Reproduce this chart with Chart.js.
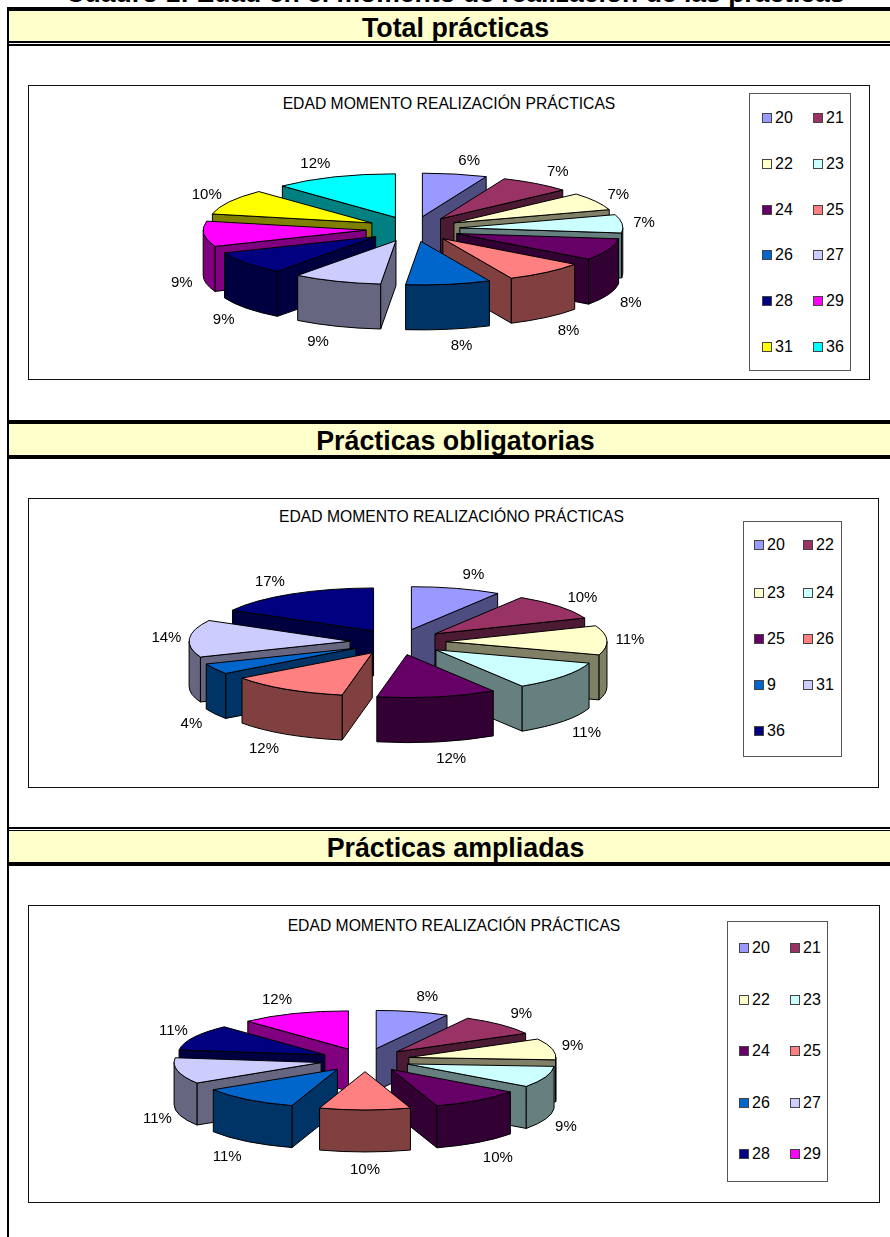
<!DOCTYPE html>
<html>
<head>
<meta charset="utf-8">
<script src="https://cdn.jsdelivr.net/npm/chart.js@4"></script>
<style>
  html, body { margin: 0; padding: 0; background: #fff; overflow: hidden; }
  body { width: 890px; height: 1237px; position: relative; font-family: "Liberation Sans", Arial, sans-serif; color: #000; }
  div, canvas { position: absolute; box-sizing: border-box; }
  .black { background: #000; }
  .head { background: #FFFFCC; left: 9px; right: 0; text-align: center; font-weight: bold; font-size: 26.8px; padding-left: 12px; white-space: nowrap; }
  .box { border: 1.5px solid #111; }
  .title { text-align: center; font-size: 15.7px; white-space: nowrap; }
  .legend { border: 1px solid #555; background: #fff; }
  .swatch { width: 10px; height: 10px; border: 1px solid #444; }
  .age { font-size: 16px; line-height: 18px; }
</style>
</head>
<body>
<div style="left:0;right:0;top:-22px;text-align:center;font-weight:bold;font-size:26.5px;padding-left:20px;white-space:nowrap">Cuadro 1: Edad en el momento de realización de las prácticas</div>
<div class="black" style="left:7px;top:7px;width:2px;height:1230px"></div>

<div class="black" style="left:7px;right:0;top:7px;height:4px"></div>
<div class="head" style="top:11px;height:30px;line-height:34px">Total prácticas</div>
<div class="black" style="left:7px;right:0;top:41px;height:2px"></div>
<div class="black" style="left:7px;right:0;top:44px;height:2px"></div>

<div class="black" style="left:7px;right:0;top:420px;height:4px"></div>
<div class="head" style="top:424px;height:31px;line-height:35px">Prácticas obligatorias</div>
<div class="black" style="left:7px;right:0;top:455px;height:4px"></div>

<div class="black" style="left:7px;right:0;top:827px;height:2px"></div>
<div class="black" style="left:7px;right:0;top:830px;height:1px"></div>
<div class="head" style="top:831px;height:31px;line-height:35px">Prácticas ampliadas</div>
<div class="black" style="left:7px;right:0;top:862px;height:4px"></div>

<div class="box" style="left:28px;top:85px;width:842px;height:295px"></div>
<div class="box" style="left:28px;top:498px;width:851px;height:290px"></div>
<div class="box" style="left:28px;top:905px;width:852px;height:298px"></div>

<div class="title" style="left:28px;width:842px;top:95px">EDAD MOMENTO REALIZACIÓN PRÁCTICAS</div>
<div class="title" style="left:26px;width:851px;top:508px">EDAD MOMENTO REALIZACIÓNO PRÁCTICAS</div>
<div class="title" style="left:28px;width:852px;top:917px">EDAD MOMENTO REALIZACIÓN PRÁCTICAS</div>

<canvas id="chartTotal"></canvas>
<canvas id="chartObligatorias"></canvas>
<canvas id="chartAmpliadas"></canvas>

<div id="legendTotal" class="legend" style="left:749px;top:93px;width:102px;height:278px"></div>
<div id="legendObligatorias" class="legend" style="left:743px;top:521px;width:99px;height:236px"></div>
<div id="legendAmpliadas" class="legend" style="left:727px;top:921px;width:101px;height:261px"></div>

<script>
const agesTotal = ['20', '21', '22', '23', '24', '25', '26', '27', '28', '29', '31', '36'];
const valuesTotal = [6.4, 7.1, 6.6, 6.8, 8.1, 8.1, 8.4, 8.8, 8.6, 9.4, 9.5, 12.2];

const agesObligatorias = ['20', '22', '23', '24', '25', '26', '9', '31', '36'];
const valuesObligatorias = [9, 10, 11, 11, 12, 12, 4, 14, 17];

const agesAmpliadas = ['20', '21', '22', '23', '24', '25', '26', '27', '28', '29'];
const valuesAmpliadas = [8, 9, 9, 9, 10, 10, 11, 11, 11, 12];

const sliceColors = ['#9999FF', '#993366', '#FFFFCC', '#CCFFFF', '#660066', '#FF8080',
    '#0066CC', '#CCCCFF', '#000080', '#FF00FF', '#FFFF00', '#00FFFF'];

function darken(hex) {
    const n = parseInt(hex.slice(1), 16);
    const half = (v) => Math.round(v / 2);
    return `rgb(${half(n >> 16)},${half((n >> 8) & 255)},${half(n & 255)})`;
}

// squashes the pie arcs into a tilted disc and extrudes them, old Excel style
const pie3d = {
    id: 'pie3d',
    beforeDatasetsDraw(chart, args, opts) {
        const ctx = chart.ctx;
        const k = opts.squash;
        const depth = opts.depth;
        const arcs = chart.getDatasetMeta(0).data.map((arc, i) => {
            const mid = (arc.startAngle + arc.endAngle) / 2;
            return {arc, i, mid, sortKey: Math.sin(mid) * arc.options.offset};
        });
        ctx.save();
        ctx.lineWidth = 1;
        ctx.lineJoin = 'round';
        ctx.strokeStyle = '#000';
        arcs.slice().sort((a, b) => a.sortKey - b.sortKey).forEach(({arc, mid}) => {
            const off = arc.options.offset;
            const r = arc.outerRadius;
            const a = arc.startAngle;
            const b = arc.endAngle;
            const ox = arc.x + Math.cos(mid) * off;
            const oy = arc.y + Math.sin(mid) * off * k;
            ctx.fillStyle = darken(arc.options.backgroundColor);

            const radialWall = (t) => {
                const ex = ox + Math.cos(t) * r;
                const ey = oy + Math.sin(t) * r * k;
                ctx.beginPath();
                ctx.moveTo(ox, oy);
                ctx.lineTo(ex, ey);
                ctx.lineTo(ex, ey + depth);
                ctx.lineTo(ox, oy + depth);
                ctx.closePath();
                ctx.fill();
                ctx.stroke();
            };
            if (Math.cos(a) < 0) radialWall(a);
            if (Math.cos(b) > 0) radialWall(b);

            const lo = Math.max(a, 0);
            const hi = Math.min(b, Math.PI);
            if (lo < hi) {
                ctx.beginPath();
                ctx.ellipse(ox, oy, r, r * k, 0, lo, hi);
                ctx.ellipse(ox, oy + depth, r, r * k, 0, hi, lo, true);
                ctx.closePath();
                ctx.fill();
                ctx.stroke();
            }

            ctx.fillStyle = arc.options.backgroundColor;
            ctx.beginPath();
            ctx.moveTo(ox, oy);
            ctx.ellipse(ox, oy, r, r * k, 0, a, b);
            ctx.closePath();
            ctx.fill();
            ctx.stroke();
        });

        // percent labels sit on a slightly boxy ellipse around the disc
        ctx.fillStyle = '#000';
        ctx.font = '15px "Liberation Sans", Arial, sans-serif';
        ctx.textAlign = 'center';
        ctx.textBaseline = 'middle';
        const values = chart.data.datasets[0].data;
        arcs.forEach(({arc, i, mid}) => {
            const sin = Math.sin(mid);
            const cos = Math.cos(mid);
            const lx = arc.x + Math.sign(cos) * Math.pow(Math.abs(cos), 0.88) * opts.labelX;
            const ly = arc.y + sin * opts.labelY + (sin > 0 ? depth + 3 : 0);
            ctx.fillText(Math.round(values[i]) + '%', lx, ly);
        });
        ctx.restore();
        return false;
    }
};

function makeLegend(id, ages, col, rowTops) {
    const el = document.getElementById(id);
    ages.forEach((age, i) => {
        const c = col[i % 2];
        const y = rowTops[Math.floor(i / 2)];
        const sw = document.createElement('div');
        sw.className = 'swatch';
        sw.style.cssText = `left:${c}px;top:${y - 5}px;background:${sliceColors[i]}`;
        const tx = document.createElement('div');
        tx.className = 'age';
        tx.textContent = age;
        tx.style.cssText = `left:${c + 13}px;top:${y - 9}px`;
        el.appendChild(sw);
        el.appendChild(tx);
    });
}

function makePie(id, ages, values, cx, cy, radius, offset, squash, depth, labelX, labelY) {
    const canvas = document.getElementById(id);
    const w = 520;
    const h = 270;
    canvas.width = w;
    canvas.height = h;
    canvas.style.left = (cx - w / 2) + 'px';
    canvas.style.top = (cy - h / 2) + 'px';
    canvas.style.width = w + 'px';
    canvas.style.height = h + 'px';
    return new Chart(canvas, {
        type: 'pie',
        data: {
            labels: ages,
            datasets: [{
                data: values,
                backgroundColor: sliceColors.slice(0, values.length),
                offset: offset
            }]
        },
        options: {
            responsive: false,
            animation: false,
            radius: radius,
            plugins: {
                legend: false,
                tooltip: {enabled: false},
                pie3d: {squash, depth, labelX, labelY}
            }
        },
        plugins: [pie3d]
    });
}

makePie('chartTotal', agesTotal, valuesTotal, 413, 229, 163, 47, 0.267, 45, 232, 70);
makePie('chartObligatorias', agesObligatorias, valuesObligatorias, 397.5, 642, 161, 48, 0.267, 45, 232, 70);
makePie('chartAmpliadas', agesAmpliadas, valuesAmpliadas, 364.5, 1059.5, 147, 45, 0.26, 42, 212, 65);

makeLegend('legendTotal', agesTotal, [12, 63], [24, 70, 116, 161, 207, 253]);
makeLegend('legendObligatorias', agesObligatorias, [10, 59], [23, 71, 117, 163, 209]);
makeLegend('legendAmpliadas', agesAmpliadas, [11, 62], [26, 78, 129, 181, 232]);
</script>
</body>
</html>
